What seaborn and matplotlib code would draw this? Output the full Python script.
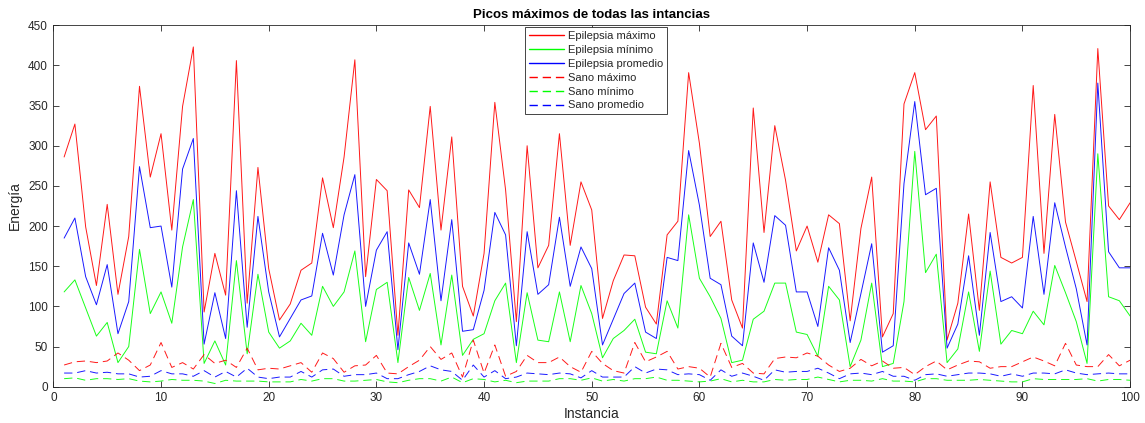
import numpy as np
import pandas as pd
import matplotlib
matplotlib.use("Agg")
import matplotlib.pyplot as plt
from matplotlib.lines import Line2D
import seaborn as sns

instancia = list(range(1, 101))

epi_max = [286, 327, 199, 126, 227, 115, 187, 374, 261, 315,
           195, 349, 423, 93, 166, 114, 406, 104, 273, 147,
           83, 103, 145, 154, 260, 198, 286, 407, 137, 258,
           244, 64, 245, 223, 349, 195, 311, 125, 88, 166,
           354, 245, 81, 300, 148, 176, 315, 176, 255, 220,
           85, 132, 164, 163, 99, 78, 189, 206, 391, 303,
           187, 206, 108, 73, 347, 192, 325, 257, 169, 200,
           155, 214, 203, 82, 197, 261, 62, 91, 352, 391,
           320, 337, 58, 104, 215, 95, 255, 161, 154, 161,
           375, 166, 339, 205, 156, 106, 421, 225, 208, 229]

epi_min = [118, 133, 98, 63, 80, 30, 50, 171, 91, 118,
           79, 174, 233, 29, 57, 27, 157, 41, 140, 68,
           48, 57, 79, 64, 125, 100, 118, 169, 56, 121,
           130, 30, 136, 95, 141, 52, 139, 39, 59, 66,
           107, 129, 30, 117, 58, 56, 118, 56, 126, 91,
           36, 60, 70, 84, 43, 41, 107, 73, 214, 135,
           112, 85, 30, 33, 84, 94, 129, 129, 68, 65,
           38, 125, 108, 25, 58, 129, 25, 29, 106, 293,
           142, 165, 30, 47, 118, 44, 144, 53, 70, 66,
           94, 77, 151, 117, 81, 29, 290, 112, 107, 88]

epi_prom = [185, 210, 137, 102, 152, 66, 106, 274, 198, 200,
            124, 271, 309, 53, 117, 60, 244, 74, 212, 118,
            62, 85, 108, 113, 191, 139, 214, 264, 100, 170,
            193, 46, 179, 140, 233, 107, 208, 69, 71, 120,
            217, 189, 51, 193, 115, 127, 211, 125, 174, 147,
            52, 84, 116, 129, 68, 60, 161, 157, 294, 226,
            135, 127, 63, 51, 179, 130, 213, 201, 118, 118,
            75, 173, 145, 55, 116, 178, 43, 51, 253, 355,
            239, 247, 48, 78, 163, 64, 192, 106, 112, 98,
            212, 115, 229, 174, 122, 52, 378, 168, 148, 148]

sano_max = [27, 31, 32, 30, 32, 42, 33, 20, 27, 55,
            24, 30, 22, 40, 29, 33, 24, 48, 21, 23,
            22, 26, 30, 18, 42, 35, 18, 26, 27, 39,
            17, 16, 25, 33, 50, 34, 42, 12, 58, 17,
            52, 13, 19, 39, 30, 30, 37, 25, 18, 44,
            29, 20, 17, 55, 31, 37, 44, 22, 25, 23,
            12, 54, 24, 29, 17, 16, 35, 37, 36, 42,
            38, 27, 19, 23, 34, 26, 32, 23, 24, 15,
            25, 32, 21, 27, 32, 31, 23, 25, 25, 31,
            37, 32, 26, 54, 27, 25, 25, 40, 26, 33]

sano_min = [10, 11, 8, 10, 10, 9, 10, 7, 6, 7,
            9, 8, 8, 7, 4, 8, 7, 7, 7, 6,
            6, 6, 9, 7, 10, 10, 7, 7, 8, 9,
            6, 5, 8, 10, 10, 7, 12, 5, 10, 9,
            6, 8, 5, 7, 7, 7, 10, 10, 8, 11,
            7, 9, 7, 10, 10, 12, 8, 8, 7, 6,
            7, 10, 6, 8, 6, 6, 9, 8, 9, 9,
            12, 9, 6, 8, 8, 7, 10, 7, 7, 6,
            10, 10, 8, 8, 8, 9, 8, 7, 6, 6,
            10, 9, 9, 9, 9, 10, 7, 9, 9, 8]

sano_prom = [17, 17, 20, 17, 18, 16, 16, 12, 13, 20,
             16, 16, 13, 20, 12, 19, 12, 23, 12, 10,
             12, 12, 19, 12, 21, 22, 13, 15, 15, 17,
             10, 10, 15, 19, 26, 21, 19, 8, 27, 12,
             20, 10, 12, 17, 16, 15, 17, 16, 11, 20,
             12, 12, 12, 25, 17, 22, 21, 15, 16, 15,
             8, 21, 13, 17, 13, 8, 21, 18, 19, 19,
             23, 17, 10, 16, 17, 15, 19, 13, 13, 8,
             15, 16, 13, 15, 17, 17, 16, 13, 16, 13,
             17, 17, 16, 21, 17, 15, 16, 17, 16, 16]

series_names = ["Epilepsia máximo", "Epilepsia mínimo", "Epilepsia promedio",
                "Sano máximo", "Sano mínimo", "Sano promedio"]
series_values = [epi_max, epi_min, epi_prom, sano_max, sano_min, sano_prom]
series_colors = ["#ff0000", "#00ff00", "#0000ff", "#ff0000", "#00ff00", "#0000ff"]
series_dashed = [False, False, False, True, True, True]

sns.set_theme(style="white")
plt.rcParams['font.family'] = ['Liberation Sans', 'DejaVu Sans']

fig = plt.figure(figsize=(11.45, 4.23), dpi=100)
ax = fig.add_axes([0.0466, 0.0858, 0.9404, 0.8545])

LW = 0.7
DASH = (8.5, 5)
handles = []
for name, vals, col, dashed in zip(series_names, series_values, series_colors, series_dashed):
    df = pd.DataFrame({"Instancia": instancia, "Energía": vals})
    n_before = len(ax.lines)
    sns.lineplot(data=df, x="Instancia", y="Energía", color=col, linewidth=LW,
                 ax=ax, legend=False)
    ln = ax.lines[n_before]
    ln.set_alpha(0.9)
    if dashed:
        ln.set_dashes(DASH)
    h = Line2D([0, 1], [0, 0], color=col, linewidth=1.0,
               linestyle=(0, (6, 3.5)) if dashed else '-')
    handles.append(h)

ax.set_xlim(0, 100)
ax.set_ylim(0, 450)
ax.set_xticks(np.arange(0, 101, 10))
ax.set_yticks(np.arange(0, 451, 50))
ax.tick_params(axis='both', which='both', direction='in', length=4, width=0.6,
               colors='#262626', labelsize=8.5, top=True, right=True,
               bottom=True, left=True, pad=4)
for sp in ax.spines.values():
    sp.set_color('#262626')
    sp.set_linewidth(0.6)

ax.set_xlabel("Instancia", fontsize=10, color='#262626', labelpad=2)
ax.set_ylabel("Energía", fontsize=10, color='#262626', labelpad=4)
ax.set_title("Picos máximos de todas las intancias", fontsize=9.5,
             fontweight='bold', color='black', pad=5)

leg = ax.legend(handles=handles, labels=series_names, loc='upper left',
                bbox_to_anchor=(0.438, 0.995), fontsize=8,
                frameon=True, fancybox=False, shadow=False, handlelength=3.2,
                handletextpad=0.3, labelspacing=0.35, borderpad=0.35,
                borderaxespad=0.0)
leg.get_frame().set_edgecolor('#262626')
leg.get_frame().set_linewidth(0.6)
leg.get_frame().set_facecolor('white')
leg.get_frame().set_alpha(1.0)

fig.savefig("out.png", dpi=100)
